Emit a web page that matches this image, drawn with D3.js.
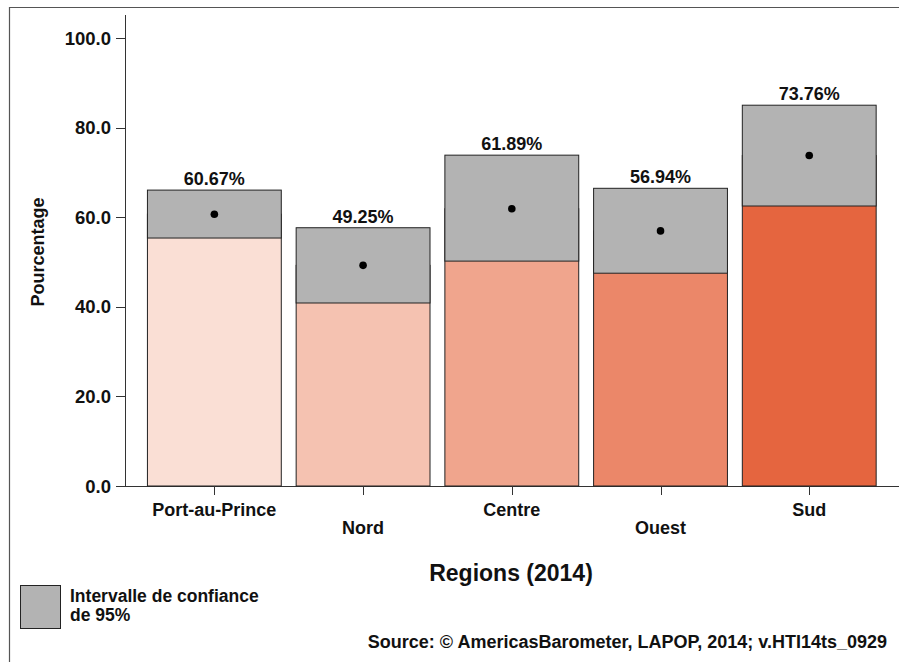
<!DOCTYPE html>
<html><head><meta charset="utf-8">
<script src="https://cdn.jsdelivr.net/npm/d3@7"></script>
<style>body{margin:0;background:#fff;} text{font-family:"Liberation Sans",Arial,sans-serif;font-weight:bold;fill:#111;}</style>
</head><body>
<svg id="c" width="899" height="662"></svg>
<script>
const regions = ["Port-au-Prince","Nord","Centre","Ouest","Sud"];
const means = [60.67, 49.25, 61.89, 56.94, 73.76];
const ciLow = [55.35, 40.85, 50.2, 47.5, 62.5];
const ciHigh = [66.05, 57.65, 73.85, 66.45, 85.0];
const colors = ["#fadfd5","#f5c2b1","#f0a58d","#eb8769","#e5653f"];
const yTicks = [0,20,40,60,80,100];

const svg = d3.select("#c");
// frame
svg.append("path").attr("d","M9.5,662 V7.5 H899").attr("fill","none").attr("stroke","#555").attr("stroke-width",1.2);

const y = d3.scaleLinear().domain([0,100]).range([486,38]);
const x = d3.scaleBand().domain(regions).range([140,883.6]).paddingInner(0.1).paddingOuter(0.05);

// axes lines
svg.append("line").attr("x1",125.5).attr("x2",125.5).attr("y1",15).attr("y2",486.5).attr("stroke","#333");
svg.append("line").attr("x1",125).attr("x2",899).attr("y1",486.5).attr("y2",486.5).attr("stroke","#333");

// y ticks
const yg = svg.append("g");
yTicks.forEach(t=>{
  yg.append("line").attr("x1",116).attr("x2",125).attr("y1",Math.round(y(t))+0.5).attr("y2",Math.round(y(t))+0.5).attr("stroke","#333");
  yg.append("text").attr("x",111).attr("y",y(t)+6.5).attr("text-anchor","end").style("font-size","18.5px").text(d3.format(".1f")(t));
});

// bars
const g = svg.append("g");
regions.forEach((r,i)=>{
  const x0 = x(r), w = x.bandwidth(), cx = x0 + w/2;
  g.append("rect").attr("x",x0).attr("y",y(means[i])).attr("width",w).attr("height",y(0)-y(means[i]))
    .attr("fill",colors[i]).attr("stroke","#222").attr("stroke-width",1);
  g.append("rect").attr("x",x0).attr("y",y(ciHigh[i])).attr("width",w).attr("height",y(ciLow[i])-y(ciHigh[i]))
    .attr("fill","#b3b3b3").attr("stroke","#222").attr("stroke-width",1);
  g.append("circle").attr("cx",cx).attr("cy",y(means[i])).attr("r",3.8).attr("fill","#000");
  g.append("text").attr("x",cx).attr("y",y(ciHigh[i])-5).attr("text-anchor","middle").style("font-size","18px").text(d3.format(".2f")(means[i])+"%");
  // x tick
  g.append("line").attr("x1",Math.round(cx)+0.5).attr("x2",Math.round(cx)+0.5).attr("y1",486).attr("y2",495).attr("stroke","#333");
  g.append("text").attr("x",cx).attr("y",i%2===0?516:534).attr("text-anchor","middle").style("font-size","18px").text(r);
});

// axis titles
svg.append("text").attr("x",511).attr("y",581).attr("text-anchor","middle").style("font-size","23px").text("Regions (2014)");
svg.append("text").attr("transform","translate(44,252) rotate(-90)").attr("text-anchor","middle").style("font-size","18px").text("Pourcentage");

// legend
svg.append("rect").attr("x",20.5).attr("y",585.5).attr("width",40).attr("height",43).attr("fill","#b3b3b3").attr("stroke","#222");
const lt = svg.append("text").attr("x",70).attr("y",602).style("font-size","17.5px");
lt.append("tspan").attr("x",70).attr("y",602).text("Intervalle de confiance");
lt.append("tspan").attr("x",70).attr("y",621).text("de 95%");

// source
svg.append("text").attr("x",887).attr("y",648).attr("text-anchor","end").style("font-size","18px").text("Source: \u00A9 AmericasBarometer, LAPOP, 2014; v.HTI14ts_0929");
</script>
</body></html>
